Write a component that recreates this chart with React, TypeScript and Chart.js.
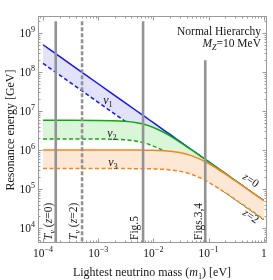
import React, { useEffect, useRef } from "react";
import { Chart, registerables } from "chart.js";

Chart.register(...registerables);

// Lightest neutrino mass m1 [eV]
const masses = [1e-4, 3e-4, 1e-3, 3e-3, 5e-3, 7e-3, 1e-2, 1.5e-2, 2e-2, 3e-2, 5e-2, 7e-2, 0.1, 0.15, 0.2, 0.3, 0.5, 1];

// Resonance energies [GeV]
const nu1Z0 = [5e8, 1.667e8, 5e7, 1.667e7, 1e7, 7.14e6, 5e6, 3.33e6, 2.5e6, 1.667e6, 1e6, 7.14e5, 5e5, 3.33e5, 2.5e5, 1.667e5, 1e5, 5e4];
const nu1Z2 = [1.667e8, 5.56e7, 1.667e7, 5.56e6, 3.33e6, 2.38e6, 1.667e6, 1.11e6, 8.33e5, 5.56e5, 3.33e5, 2.38e5, 1.667e5, 1.11e5, 8.33e4, 5.56e4, 3.33e4, 1.667e4];
const nu2Z0 = [5.77e6, 5.77e6, 5.74e6, 5.46e6, 5.0e6, 4.49e6, 3.78e6, 2.89e6, 2.29e6, 1.6e6, 9.85e5, 7.09e5, 4.98e5, 3.33e5, 2.5e5, 1.667e5, 1e5, 5e4];
const nu2Z2 = [1.92e6, 1.92e6, 1.91e6, 1.82e6, 1.67e6, 1.5e6, 1.26e6, 9.63e5, 7.63e5, 5.33e5, 3.28e5, 2.36e5, 1.66e5, 1.11e5, 8.33e4, 5.56e4, 3.33e4, 1.667e4];
const nu3Z0 = [1.0e6, 1.0e6, 9.998e5, 9.98e5, 9.95e5, 9.9e5, 9.81e5, 9.58e5, 9.28e5, 8.57e5, 7.07e5, 5.81e5, 4.47e5, 3.16e5, 2.43e5, 1.64e5, 9.95e4, 4.99e4];
const nu3Z2 = [3.33e5, 3.33e5, 3.33e5, 3.33e5, 3.32e5, 3.3e5, 3.27e5, 3.19e5, 3.09e5, 2.86e5, 2.36e5, 1.94e5, 1.49e5, 1.05e5, 8.1e4, 5.47e4, 3.32e4, 1.66e4];

// Vertical marker lines
const markerMasses = [1.7e-4, 5.1e-4, 6.5e-3, 0.087];
const markerTops = [2e9, 2e9, 2e9, 2e8];
const markerBottom = 4.4e3;
const markerDashed = [false, true, false, false];

// Axis ticks
const xTickValues = [1e-4, 1e-3, 1e-2, 1e-1, 1];
const xTickExps = ["−4", "−3", "−2", "−1", ""];
const yTickValues = [1e4, 1e5, 1e6, 1e7, 1e8, 1e9];
const yTickExps = ["4", "5", "6", "7", "8", "9"];

const X_MIN = 8.11e-5;
const X_MAX = 1.144;
const Y_MIN = 4.12e3;
const Y_MAX = 2.73e9;

const BLUE = "#1414f5";
const GREEN = "#10a810";
const ORANGE = "#f7841a";
const BLUE_FILL = "#e2e2fb";
const GREEN_FILL = "#d9f6d9";
const ORANGE_FILL = "#fde8d6";
const GRAY = "#939393";
const FRAME = "#9a9a9a";
const TEXT = "#151515";
const FONT = '"Liberation Serif", "DejaVu Serif", serif';

type Seg = { t: string; i?: boolean; sub?: boolean; sup?: boolean };

function segFont(s: Seg, size: number) {
  const sz = s.sub || s.sup ? size * 0.7 : size;
  return `${s.i ? "italic " : ""}${sz}px ${FONT}`;
}

function richWidth(ctx: CanvasRenderingContext2D, segs: Seg[], size: number) {
  let w = 0;
  for (const s of segs) {
    ctx.font = segFont(s, size);
    w += ctx.measureText(s.t).width;
  }
  return w;
}

function drawRich(
  ctx: CanvasRenderingContext2D,
  segs: Seg[],
  x: number,
  cy: number,
  size: number,
  align: "left" | "center" | "right"
) {
  const w = richWidth(ctx, segs, size);
  let cx = align === "left" ? x : align === "center" ? x - w / 2 : x - w;
  const base = cy + size * 0.33;
  ctx.textAlign = "left";
  ctx.textBaseline = "alphabetic";
  for (const s of segs) {
    ctx.font = segFont(s, size);
    const dy = s.sub ? size * 0.25 : s.sup ? -size * 0.42 : 0;
    ctx.fillText(s.t, cx, base + dy);
    cx += ctx.measureText(s.t).width;
  }
}

function drawRotated(
  ctx: CanvasRenderingContext2D,
  segs: Seg[],
  x: number,
  y: number,
  angle: number,
  size: number,
  align: "left" | "center" | "right"
) {
  ctx.save();
  ctx.translate(x, y);
  ctx.rotate(angle);
  drawRich(ctx, segs, 0, 0, size, align);
  ctx.restore();
}

const decorPlugin = {
  id: "decor",
  afterDraw(chart: any) {
    const ctx: CanvasRenderingContext2D = chart.ctx;
    const a = chart.chartArea;
    const xs = chart.scales.x;
    const ys = chart.scales.y;
    ctx.save();

    // frame
    ctx.strokeStyle = FRAME;
    ctx.lineWidth = 1;
    ctx.setLineDash([]);
    ctx.strokeRect(a.left + 0.5, a.top + 0.5, a.right - a.left - 1, a.bottom - a.top - 1);

    const seg = (x1: number, y1: number, x2: number, y2: number) => {
      ctx.beginPath();
      ctx.moveTo(x1, y1);
      ctx.lineTo(x2, y2);
      ctx.stroke();
    };

    // x ticks (all decades, minor 2..9)
    for (let e = -5; e <= 1; e++) {
      for (let k = 1; k <= 9; k++) {
        const v = k * Math.pow(10, e);
        if (v < X_MIN || v > X_MAX) continue;
        const px = Math.round(xs.getPixelForValue(v)) + 0.5;
        const len = k === 1 ? 4.5 : 2.5;
        seg(px, a.bottom, px, a.bottom - len);
        seg(px, a.top, px, a.top + len);
      }
    }
    // y ticks
    for (let e = 3; e <= 9; e++) {
      for (let k = 1; k <= 9; k++) {
        const v = k * Math.pow(10, e);
        if (v < Y_MIN || v > Y_MAX) continue;
        const py = Math.round(ys.getPixelForValue(v)) + 0.5;
        const len = k === 1 ? 4.5 : 2.5;
        seg(a.left, py, a.left + len, py);
        seg(a.right, py, a.right - len, py);
      }
    }

    ctx.fillStyle = TEXT;
    // x tick labels
    xTickValues.forEach((v, i) => {
      const px = xs.getPixelForValue(v);
      const segs: Seg[] = xTickExps[i] ? [{ t: "10" }, { t: xTickExps[i], sup: true }] : [{ t: "1" }];
      drawRich(ctx, segs, px, 253, 11.5, "center");
    });
    // y tick labels
    yTickValues.forEach((v, i) => {
      const py = ys.getPixelForValue(v);
      drawRich(ctx, [{ t: "10" }, { t: yTickExps[i], sup: true }], 35, py, 11.5, "right");
    });

    // axis titles
    drawRotated(ctx, [{ t: "Resonance energy [GeV]" }], 10, 130, -Math.PI / 2, 12, "center");
    drawRich(
      ctx,
      [{ t: "Lightest neutrino mass (" }, { t: "m", i: true }, { t: "1", sub: true }, { t: ") [eV]" }],
      152,
      272,
      12,
      "center"
    );

    // legend-like annotation
    drawRich(ctx, [{ t: "Normal Hierarchy" }], 261, 31, 11.5, "right");
    drawRich(
      ctx,
      [{ t: "M", i: true }, { t: "Z", i: true, sub: true }, { t: "=10 MeV" }],
      261,
      43,
      11.5,
      "right"
    );

    // band labels
    drawRich(ctx, [{ t: "ν", i: true }, { t: "1", sub: true }], 108, 100, 12, "center");
    drawRich(ctx, [{ t: "ν", i: true }, { t: "2", sub: true }], 112, 133, 12, "center");
    drawRich(ctx, [{ t: "ν", i: true }, { t: "3", sub: true }], 113, 162, 12, "center");

    // vertical marker labels
    const vl = -Math.PI / 2;
    drawRotated(
      ctx,
      [{ t: "T", i: true }, { t: "ν", i: true, sub: true }, { t: " (" }, { t: "z", i: true }, { t: "=0)" }],
      48,
      240,
      vl,
      11.5,
      "left"
    );
    drawRotated(
      ctx,
      [{ t: "T", i: true }, { t: "ν", i: true, sub: true }, { t: " (" }, { t: "z", i: true }, { t: "=2)" }],
      73,
      240,
      vl,
      11.5,
      "left"
    );
    drawRotated(ctx, [{ t: "Fig.5" }], 134, 240, vl, 11.5, "left");
    drawRotated(ctx, [{ t: "Figs.3,4" }], 198, 240, vl, 11.5, "left");

    // redshift labels
    const ang = (35 * Math.PI) / 180;
    drawRotated(ctx, [{ t: "z", i: true }, { t: "=0" }], 251, 180, ang, 11.5, "center");
    drawRotated(ctx, [{ t: "z", i: true }, { t: "=2" }], 251, 216, ang, 11.5, "center");

    ctx.restore();
  },
};

function pts(vals: number[]) {
  return masses.map((m, i) => ({ x: m, y: vals[i] }));
}

function lineDs(vals: number[], color: string, dashed: boolean, order: number) {
  return {
    data: pts(vals),
    borderColor: color,
    borderWidth: 1.5,
    borderDash: dashed ? [4, 2.5] : [],
    fill: false,
    pointRadius: 0,
    order,
    cubicInterpolationMode: "monotone",
  };
}

function fillDs(vals: number[], color: string, target: number, order: number) {
  return {
    data: pts(vals),
    borderColor: "transparent",
    borderWidth: 0,
    backgroundColor: color,
    fill: target,
    pointRadius: 0,
    order,
    cubicInterpolationMode: "monotone",
  };
}

export default function App() {
  const ref = useRef<HTMLCanvasElement | null>(null);

  useEffect(() => {
    if (!ref.current) return;
    const markers = markerMasses.map((m, i) => ({
      data: [
        { x: m, y: markerTops[i] },
        { x: m, y: markerBottom },
      ],
      borderColor: GRAY,
      borderWidth: 2.6,
      borderDash: markerDashed[i] ? [4, 2] : [],
      fill: false,
      pointRadius: 0,
      order: -1,
    }));
    const chart = new Chart(ref.current, {
      type: "line",
      data: {
        datasets: [
          lineDs(nu3Z0, ORANGE, false, 0),
          lineDs(nu3Z2, ORANGE, true, 1),
          fillDs(nu3Z0, ORANGE_FILL, 1, 2),
          lineDs(nu2Z0, GREEN, false, 3),
          lineDs(nu2Z2, GREEN, true, 4),
          fillDs(nu2Z0, GREEN_FILL, 4, 5),
          lineDs(nu1Z0, BLUE, false, 6),
          lineDs(nu1Z2, BLUE, true, 7),
          fillDs(nu1Z0, BLUE_FILL, 7, 8),
          ...markers,
        ] as any,
      },
      options: {
        animation: false,
        responsive: false,
        devicePixelRatio: 1,
        layout: { padding: { left: 38, top: 16, right: 6, bottom: 37 } },
        plugins: {
          legend: { display: false },
          tooltip: { enabled: false },
        },
        scales: {
          x: { type: "logarithmic", display: false, min: X_MIN, max: X_MAX },
          y: { type: "logarithmic", display: false, min: Y_MIN, max: Y_MAX },
        },
      } as any,
      plugins: [decorPlugin],
    });
    return () => chart.destroy();
  }, []);

  return (
    <div style={{ position: "absolute", left: 0, top: 0, width: 273, height: 280, background: "#fff" }}>
      <canvas ref={ref} width={273} height={280} style={{ display: "block" }} />
    </div>
  );
}
